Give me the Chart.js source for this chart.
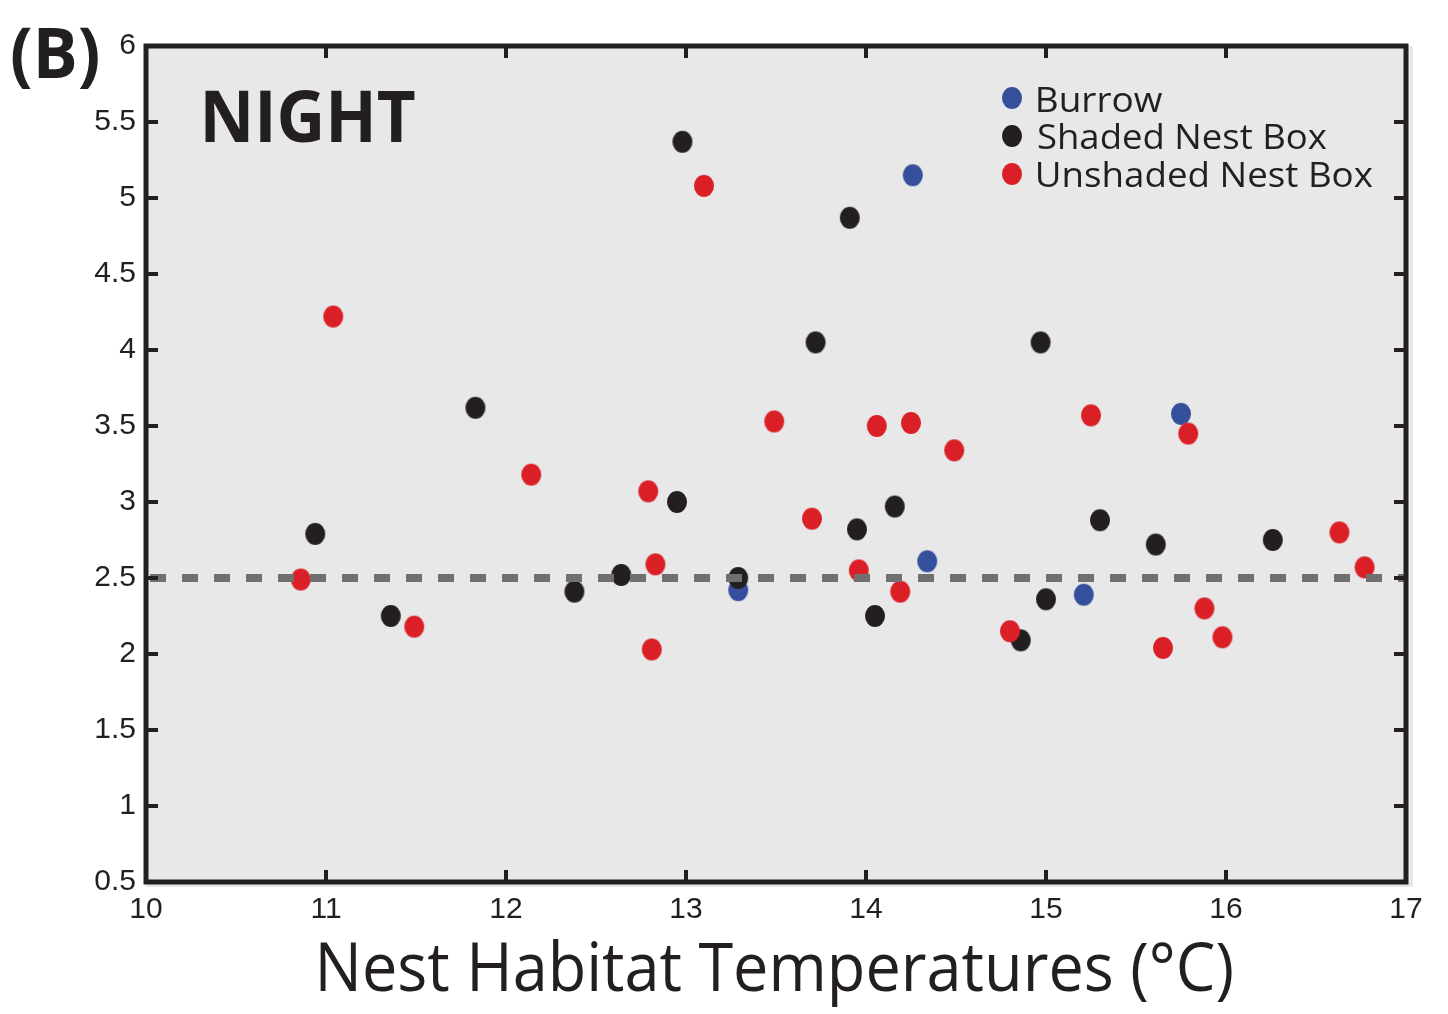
<!DOCTYPE html>
<html>
<head>
<meta charset="utf-8">
<title>Nest Habitat Temperatures - Night</title>
<script src="https://cdn.jsdelivr.net/npm/chart.js@4.4.1/dist/chart.umd.min.js"></script>
<style>
  html, body { margin: 0; padding: 0; background: #ffffff; }
  canvas { display: block; }
</style>
</head>
<body>
<canvas id="nightChart" width="1448" height="1014"></canvas>
<script>
// night-time values per nest habitat, x = habitat temperature (°C)
const burrowTemp = [13.29, 14.26, 14.34, 15.21, 15.75];
const burrowVal  = [2.42, 5.15, 2.61, 2.39, 3.58];

const shadedTemp = [10.94, 11.36, 11.83, 12.38, 12.64, 12.98, 12.95, 13.29, 13.72, 13.91,
                    13.95, 14.05, 14.16, 14.86, 14.97, 15.00, 15.30, 15.61, 16.26];
const shadedVal  = [2.79, 2.25, 3.62, 2.41, 2.52, 5.37, 3.00, 2.50, 4.05, 4.87,
                    2.82, 2.25, 2.97, 2.09, 4.05, 2.36, 2.88, 2.72, 2.75];

const unshadedTemp = [10.86, 11.04, 11.49, 12.14, 12.79, 12.83, 12.81, 13.10, 13.49, 13.70,
                      13.96, 14.06, 14.25, 14.19, 14.49, 14.80, 15.25, 15.79, 15.65, 15.88,
                      15.98, 16.63, 16.77];
const unshadedVal  = [2.49, 4.22, 2.18, 3.18, 3.07, 2.59, 2.03, 5.08, 3.53, 2.89,
                      2.55, 3.50, 3.52, 2.41, 3.34, 2.15, 3.57, 3.45, 2.04, 2.30,
                      2.11, 2.80, 2.57];

const refLevel = 2.5;
const xTicks = [10, 11, 12, 13, 14, 15, 16, 17];
const yTicks = [0.5, 1, 1.5, 2, 2.5, 3, 3.5, 4, 4.5, 5, 5.5, 6];

const ink = '#231f20';
const colors = { burrow: '#344f9b', shaded: '#231f20', unshaded: '#da1f26' };

// slightly tall oval markers
function ovalMarker(color) {
  const c = document.createElement('canvas');
  c.width = 22; c.height = 24;
  const g = c.getContext('2d');
  g.fillStyle = color;
  g.beginPath();
  g.ellipse(11, 12, 10, 11, 0, 0, Math.PI * 2);
  g.fill();
  return c;
}

function toPoints(xs, ys) {
  return xs.map((x, i) => ({ x: x, y: ys[i] }));
}

function series(label, xs, ys, color, order) {
  return {
    label: label,
    data: toPoints(xs, ys),
    pointStyle: ovalMarker(color),
    pointRadius: 10,
    backgroundColor: color,
    borderColor: color,
    order: order
  };
}

// text drawn to a given ink width and cap height
function fitText(ctx, text, left, baseline, inkW, capH, weight, family) {
  ctx.font = weight + ' 100px "' + family + '"';
  const cap = ctx.measureText('H').actualBoundingBoxAscent;
  const size = 100 * capH / cap;
  ctx.font = weight + ' ' + size + 'px "' + family + '"';
  const m = ctx.measureText(text);
  const w = m.actualBoundingBoxLeft + m.actualBoundingBoxRight;
  ctx.save();
  ctx.translate(left, baseline);
  ctx.scale(inkW / w, 1);
  ctx.textAlign = 'left';
  ctx.textBaseline = 'alphabetic';
  ctx.fillStyle = ink;
  ctx.fillText(text, m.actualBoundingBoxLeft, 0);
  ctx.restore();
}

const decor = {
  id: 'decor',
  beforeDraw(chart) {
    const { ctx, chartArea: a } = chart;
    ctx.save();
    ctx.fillStyle = '#e8e8e8';
    ctx.fillRect(a.left, a.top, a.right - a.left + 7, a.bottom - a.top + 5);
    ctx.restore();
  },
  afterDatasetsDraw(chart) {
    const { ctx, chartArea: a, scales } = chart;
    const tick = 12;
    ctx.save();
    ctx.strokeStyle = ink;
    ctx.lineWidth = 4;
    ctx.beginPath();
    xTicks.slice(1, -1).forEach(v => {
      const px = scales.x.getPixelForValue(v);
      ctx.moveTo(px, a.bottom); ctx.lineTo(px, a.bottom - tick);
      ctx.moveTo(px, a.top); ctx.lineTo(px, a.top + tick);
    });
    yTicks.slice(1, -1).forEach(v => {
      const py = scales.y.getPixelForValue(v);
      ctx.moveTo(a.left, py); ctx.lineTo(a.left + tick, py);
      ctx.moveTo(a.right, py); ctx.lineTo(a.right - tick, py);
    });
    ctx.stroke();
    ctx.lineWidth = 5;
    ctx.strokeRect(a.left, a.top, a.right - a.left, a.bottom - a.top);
    ctx.restore();
  },
  afterDraw(chart) {
    const ctx = chart.ctx;
    fitText(ctx, '(B)', 12, 78, 86, 50, 'bold', 'Open Sans');
    fitText(ctx, 'NIGHT', 205, 142, 210, 52, 'bold', 'Open Sans');
    fitText(ctx, 'Nest Habitat Temperatures (°C)', 320, 991, 912, 50, 'normal', 'Open Sans');

    // legend in the upper right corner
    const rows = [
      { label: 'Burrow', color: colors.burrow, y: 98, base: 112, w: 125 },
      { label: 'Shaded Nest Box', color: colors.shaded, y: 136, base: 149, w: 289 },
      { label: 'Unshaded Nest Box', color: colors.unshaded, y: 174, base: 187, w: 335 }
    ];
    rows.forEach(r => {
      ctx.drawImage(ovalMarker(r.color), 1001, r.y - 12);
      fitText(ctx, r.label, 1038, r.base, r.w, 25, 'normal', 'Open Sans');
    });
  }
};

const tickFont = { family: '"Liberation Sans", Arial, sans-serif', size: 30 };

const config = {
  type: 'scatter',
  data: {
    datasets: [
      {
        label: 'reference',
        data: [{ x: xTicks[0], y: refLevel }, { x: xTicks[xTicks.length - 1], y: refLevel }],
        showLine: true,
        pointRadius: 0,
        borderColor: '#707070',
        borderWidth: 8,
        borderDash: [16, 16],
        borderDashOffset: 28,
        order: 0
      },
      series('Unshaded Nest Box', unshadedTemp, unshadedVal, colors.unshaded, 1),
      series('Shaded Nest Box', shadedTemp, shadedVal, colors.shaded, 2),
      series('Burrow', burrowTemp, burrowVal, colors.burrow, 3)
    ]
  },
  options: {
    responsive: false,
    animation: false,
    events: [],
    layout: { padding: { top: 46, right: 42, left: 0, bottom: 0 } },
    plugins: {
      legend: { display: false },
      tooltip: { enabled: false }
    },
    scales: {
      x: {
        type: 'linear',
        min: xTicks[0],
        max: xTicks[xTicks.length - 1],
        afterBuildTicks: s => { s.ticks = xTicks.map(v => ({ value: v })); },
        afterFit: s => { s.height = 132; },
        grid: { display: false },
        border: { display: false },
        ticks: { color: ink, padding: 2, font: tickFont, callback: v => String(v) }
      },
      y: {
        type: 'linear',
        min: yTicks[0],
        max: yTicks[yTicks.length - 1],
        afterBuildTicks: s => { s.ticks = yTicks.map(v => ({ value: v })); },
        afterFit: s => { s.width = 146; },
        grid: { display: false },
        border: { display: false },
        ticks: { color: ink, padding: 2, font: tickFont, callback: v => String(v) }
      }
    }
  },
  plugins: [decor]
};

const nightChart = new Chart(document.getElementById('nightChart').getContext('2d'), config);
</script>
</body>
</html>
